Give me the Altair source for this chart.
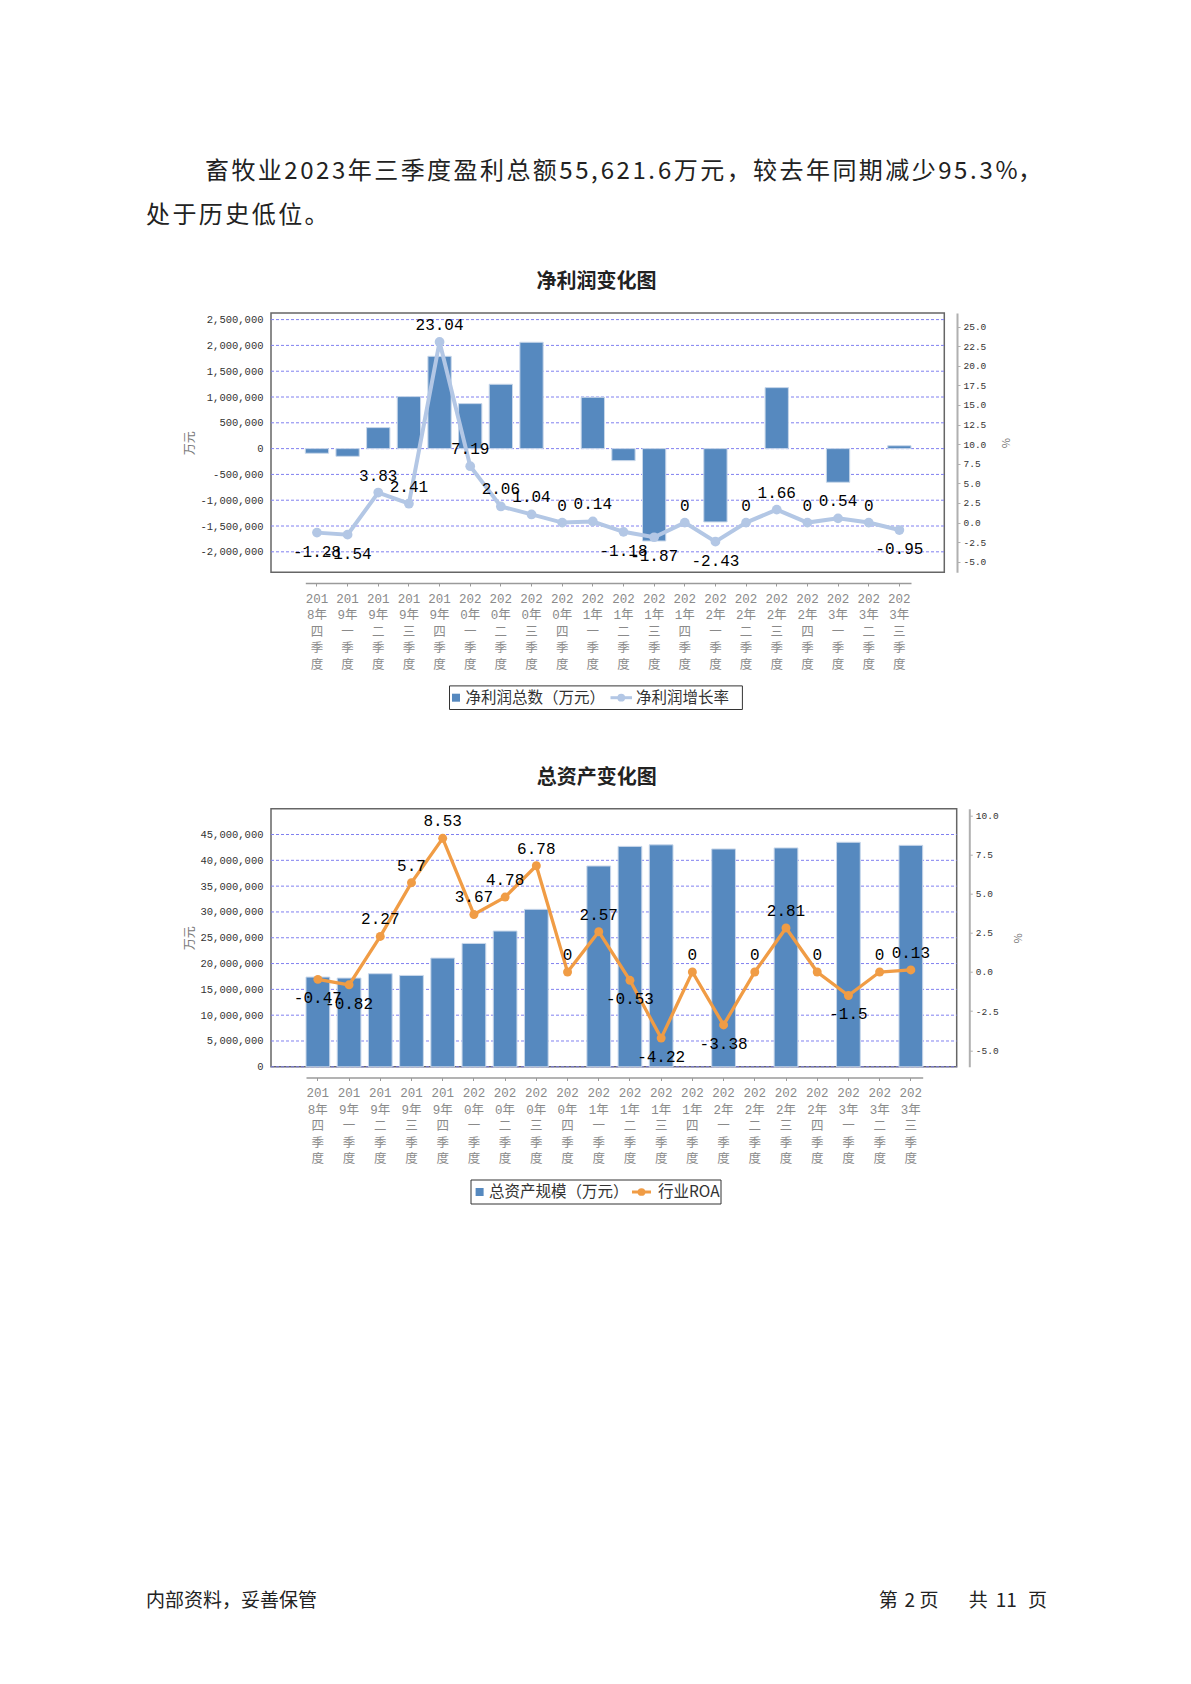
import altair as alt
import pandas as pd

# ---------------- data ----------------
cats = ["2018年四季度", "2019年一季度", "2019年二季度", "2019年三季度", "2019年四季度",
        "2020年一季度", "2020年二季度", "2020年三季度", "2020年四季度",
        "2021年一季度", "2021年二季度", "2021年三季度", "2021年四季度",
        "2022年一季度", "2022年二季度", "2022年三季度", "2022年四季度",
        "2023年一季度", "2023年二季度", "2023年三季度"]
net_profit = [-90000, -149000, 407000, 1008000, 1789000, 872000, 1247000, 2061000, None,
              995000, -233000, -1790000, None, -1421000, None, 1182000, None, -652000, None, 55621.6]
profit_growth = [-1.28, -1.54, 3.83, 2.41, 23.04, 7.19, 2.06, 1.04, 0, 0.14,
                 -1.18, -1.87, 0, -2.43, 0, 1.66, 0, 0.54, 0, -0.95]
total_assets = [17380000, 17190000, 18030000, 17700000, 21060000, 23900000, 26300000, 30500000, None,
                38900000, 42700000, 43000000, None, 42200000, None, 42400000, None, 43500000, None, 42900000]
roa = [-0.47, -0.82, 2.27, 5.7, 8.53, 3.67, 4.78, 6.78, 0, 2.57,
       -0.53, -4.22, 0, -3.38, 0, 2.81, 0, -1.5, 0, 0.13]

left1_ticks = [-2000000, -1500000, -1000000, -500000, 0, 500000, 1000000, 1500000, 2000000, 2500000]
right1_ticks = [-5, -2.5, 0, 2.5, 5, 7.5, 10, 12.5, 15, 17.5, 20, 22.5, 25]
left2_ticks = [0, 5000000, 10000000, 15000000, 20000000, 25000000, 30000000, 35000000, 40000000, 45000000]
right2_ticks = [-5, -2.5, 0, 2.5, 5, 7.5, 10]

para1 = "畜牧业2023年三季度盈利总额55,621.6万元，较去年同期减少95.3%，"
para2 = "处于历史低位。"
title1 = "净利润变化图"
title2 = "总资产变化图"
legend1 = ["净利润总数（万元）", "净利润增长率"]
legend2 = ["总资产规模（万元）", "行业ROA"]
footer_left = "内部资料，妥善保管"
footer_right = ["第", "2", "页", "共", "11", "页"]

# ---------------- styles ----------------
CJK = "Noto Sans CJK SC"
NUM = "Liberation Mono, Noto Sans CJK SC"
BAR = "#5689bf"
BAR_EDGE = "#c8d7ea"
LINE1 = "#b3c7e5"
LINE2 = "#f09c45"
GRID = "#8080f0"


def lab(v):
    s = f"{v:.2f}".rstrip("0").rstrip(".")
    return "0" if s in ("-0", "") else s


def one():
    return alt.Chart(pd.DataFrame({"a": [0]}))


def adv(c):
    if ord(c) >= 0x2E80:
        return 1.0
    if c.isdigit():
        return 0.56
    if c in ",.":
        return 0.3
    if c == "%":
        return 0.84
    return 0.6


def char_layout(text, x0, fs, gap):
    xs, x = [], x0
    for c in text:
        xs.append(x)
        x += adv(c) * fs + gap
    return pd.DataFrame({"ch": list(text), "px": xs})


def make_panel(values, rates, W, H, xr, ydom, yticks, rdom, rticks, line_color,
               line_w, pt_size, roff, legend_txt, leg, deco_extra):
    df = pd.DataFrame({"cat": cats, "val": values, "rate": rates,
                       "label": [lab(r) for r in rates]})
    x_enc = alt.X(
        "cat:N", sort=cats, title=None,
        scale=alt.Scale(range=xr, paddingInner=0.24, paddingOuter=0),
        axis=alt.Axis(
            offset=10.7, domainColor="#9a9a9a", domainWidth=1.5, tickColor="#9a9a9a",
            tickSize=3, labelAngle=0, labelBaseline="top", labelAlign="center",
            labelExpr="[substring(datum.label,0,3), substring(datum.label,3,5), substring(datum.label,5,6), substring(datum.label,6,7), substring(datum.label,7,8)]",
            labelFont=NUM, labelFontSize=12.5, labelColor="#8a8a8a", labelLineHeight=16.5,
            labelPadding=6, labelOverlap=False, labelBound=False, labelFlush=False, grid=False))

    left_axis = alt.Axis(
        values=yticks, labelExpr="replace(format(datum.value, ','), '\u2212', '-')",
        domain=False, ticks=False, grid=False,
        labelFont=NUM, labelFontSize=10.5, labelColor="#333333", labelPadding=8,
        title="万元", titleFont=CJK, titleFontSize=12, titleFontWeight="normal",
        titleColor="#777777", titleAngle=-90, titleX=-82, titleY=H / 2,
        titleAlign="center", titleBaseline="middle")

    right_axis = alt.Axis(
        orient="right", offset=roff, values=rticks,
        labelExpr="replace(format(datum.value, '.1f'), '\u2212', '-')",
        domainColor="#b0b0b0", domainWidth=2, tickColor="#b0b0b0", tickSize=3, grid=False,
        labelFont=NUM, labelFontSize=9.5, labelColor="#333333", labelPadding=3,
        title="%", titleFont=CJK, titleFontSize=11, titleFontWeight="normal",
        titleColor="#777777", titleAngle=90, titleX=47, titleY=H / 2,
        titleAlign="center", titleBaseline="middle")

    yscale = alt.Scale(domain=ydom, nice=False, zero=False)
    grid = alt.Chart(pd.DataFrame({"val": yticks})).mark_rule(
        color=GRID, strokeDash=[3, 2], strokeWidth=1
    ).encode(x=alt.value(0), x2=alt.value(W), y=alt.Y("val:Q", scale=yscale, axis=left_axis))
    bars = alt.Chart(df).transform_filter("isValid(datum.val)").mark_bar(
        color=BAR, stroke=BAR_EDGE, strokeWidth=1
    ).encode(x=x_enc, y=alt.Y("val:Q", scale=yscale, axis=left_axis))
    bar_group = alt.layer(grid, bars)

    base = alt.Chart(df).encode(
        x=x_enc,
        y=alt.Y("rate:Q", scale=alt.Scale(domain=rdom, nice=False, zero=False), axis=right_axis))
    line = base.mark_line(color=line_color, strokeWidth=line_w)
    pts = base.mark_point(filled=True, size=pt_size, color=line_color, opacity=1)
    pos = base.transform_filter("datum.rate >= 0").mark_text(
        dy=-17, font=NUM, fontSize=16, color="#000000").encode(text="label:N")
    neg = base.transform_filter("datum.rate < 0").mark_text(
        dy=19, font=NUM, fontSize=16, color="#000000").encode(text="label:N")
    line_group = alt.layer(line, pts, pos, neg)

    # legend key, drawn as decoration
    bx0, bx1, by0, by1, sq, t1, l0, l1, t2, cy = leg
    legend_layers = [
        one().mark_rect(fill="white", stroke="#333333", strokeWidth=1).encode(
            x=alt.value(bx0), x2=alt.value(bx1), y=alt.value(by0), y2=alt.value(by1)),
        one().mark_rect(color=BAR).encode(
            x=alt.value(sq - 4), x2=alt.value(sq + 4), y=alt.value(cy - 4), y2=alt.value(cy + 4)),
        one().mark_text(align="left", baseline="middle", font=CJK, fontSize=15.5, color="#333333").encode(
            x=alt.value(t1), y=alt.value(cy), text=alt.value(legend_txt[0])),
        one().mark_rule(color=line_color, strokeWidth=3).encode(
            x=alt.value(l0), x2=alt.value(l1), y=alt.value(cy)),
        one().mark_point(filled=True, size=60, color=line_color, opacity=1).encode(
            x=alt.value((l0 + l1) / 2), y=alt.value(cy)),
        one().mark_text(align="left", baseline="middle", font=CJK, fontSize=15.5, color="#333333").encode(
            x=alt.value(t2), y=alt.value(cy), text=alt.value(legend_txt[1])),
    ]

    return alt.layer(bar_group, line_group, *legend_layers, *deco_extra).resolve_scale(
        y="independent").properties(width=W, height=H)


# ---------- paragraph (justified on a character grid) ----------
FS = 24
x_start, x_end = -66, 771
natural = sum(adv(c) for c in para1) * FS
gap = (x_end - x_start - natural) / (len(para1) - 1)
p1 = char_layout(para1, x_start, FS, gap)
p2 = char_layout(para2, -125, FS, gap)

para_layers = [
    alt.Chart(p).mark_text(align="left", baseline="middle", font=CJK, fontSize=FS,
                           color="#222222").encode(
        x=alt.X("px:Q", scale=None), y=alt.value(yy), text="ch:N")
    for p, yy in ((p1, -140.7), (p2, -97))
]

deco1 = [
    # invisible page-corner anchor (page top-left)
    one().mark_rect(opacity=0).encode(
        x=alt.value(-262), x2=alt.value(-250), y=alt.value(-303.7), y2=alt.value(-290)),
    *para_layers,
    one().mark_text(align="center", baseline="middle", font=CJK, fontSize=20, fontWeight="bold",
                    color="#222222").encode(
        x=alt.value(325.5), y=alt.value(-30.7), text=alt.value(title1)),
]

foot_x = [607.7, 633.5, 648.5, 697.8, 724.7, 756.9]
deco2 = [
    one().mark_text(align="center", baseline="middle", font=CJK, fontSize=20, fontWeight="bold",
                    color="#222222").encode(
        x=alt.value(325.8), y=alt.value(-30.7), text=alt.value(title2)),
    one().mark_text(align="left", baseline="middle", font=CJK, fontSize=19, color="#222222").encode(
        x=alt.value(-125), y=alt.value(792), text=alt.value(footer_left)),
] + [
    one().mark_text(align="left", baseline="middle", font=CJK, fontSize=19, color="#222222").encode(
        x=alt.value(fx), y=alt.value(792), text=alt.value(ft))
    for fx, ft in zip(foot_x, footer_right)
]

chart1 = make_panel(net_profit, profit_growth, 673.3, 259.3, [34.3, 640.0],
                    [-2397000, 2628000], left1_ticks, [-6.34, 26.73], right1_ticks,
                    LINE1, 4, 95, 12.7, legend1,
                    (178.5, 471.4, 372.9, 396.5, 185, 194.6, 339.5, 361, 365, 384.7), deco1)
chart2 = make_panel(total_assets, roa, 685.7, 258.1, [35.0, 651.7],
                    [0, 50000000], left2_ticks, [-6.05, 10.42], right2_ticks,
                    LINE2, 3.3, 80, 12.6, legend2,
                    (200, 450, 371.3, 395.3, 208.6, 218, 361, 380, 387, 383.3), deco2)

chart = alt.vconcat(chart1, chart2, spacing=235.7, bounds="flush").properties(
    padding=0, background="white"
).configure_view(stroke="#666666", strokeWidth=1.5)

chart.save("out.html", embed_options={"renderer": "svg", "actions": False})
